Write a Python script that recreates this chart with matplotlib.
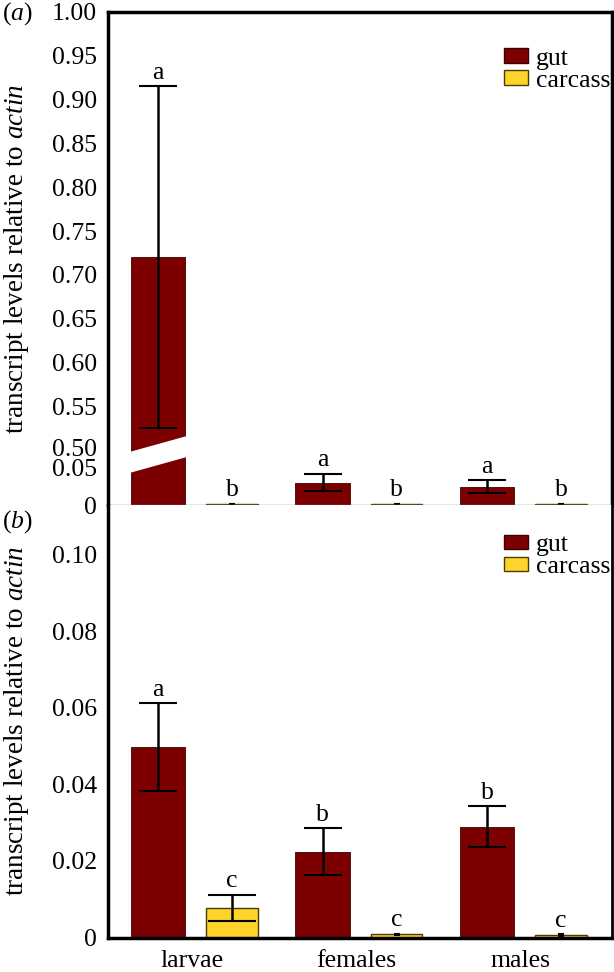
import numpy as np
import matplotlib
matplotlib.use('Agg')
import matplotlib.pyplot as plt
from matplotlib.patches import Polygon, Patch
import matplotlib.transforms as mtransforms

plt.rcParams['font.family'] = ['Liberation Serif', 'DejaVu Serif']
plt.rcParams['mathtext.fontset'] = 'custom'
plt.rcParams['mathtext.rm'] = 'Liberation Serif'
plt.rcParams['mathtext.it'] = 'Liberation Serif:italic'

# ---------------- data ----------------
categories = ['larvae', 'females', 'males']
series = ['gut', 'carcass']

a_gut = [0.72, 0.028, 0.023]
a_gut_err = [0.195, 0.0106, 0.0078]
a_carc = [0.0012, 0.0010, 0.0010]
a_carc_err = [0.0003, 0.0003, 0.0003]
a_gut_letters = ['a', 'a', 'a']
a_carc_letters = ['b', 'b', 'b']

b_gut = [0.0497, 0.0224, 0.0290]
b_gut_err = [0.0115, 0.0061, 0.0053]
b_carc = [0.0077, 0.0008, 0.0006]
b_carc_err = [0.0035, 0.0002, 0.0002]
b_gut_letters = ['a', 'b', 'b']
b_carc_letters = ['c', 'c', 'c']

a_yticks = [0, 0.05, 0.50, 0.55, 0.60, 0.65, 0.70, 0.75, 0.80, 0.85, 0.90, 0.95, 1.00]
a_yticklabels = ['0', '0.05', '0.50', '0.55', '0.60', '0.65', '0.70', '0.75',
                 '0.80', '0.85', '0.90', '0.95', '1.00']
b_yticks = [0, 0.02, 0.04, 0.06, 0.08, 0.10]
b_yticklabels = ['0', '0.02', '0.04', '0.06', '0.08', '0.10']

# broken-axis breakpoints for panel (a): data values -> relative display units
a_break_data = [0.0, 0.05, 0.50, 1.00]
a_break_disp = [0.0, 40.0, 55.0, 493.0]

# ---------------- style ----------------
GUT = '#7d0000'
CARC = '#ffd42a'
FS = 18.5
FS_LAB = 19.5
FS_LET = 18.5
W = 0.33
OFF = 0.225

fig = plt.figure(figsize=(6.14, 9.72), dpi=100)
L, R = 108 / 614, 612 / 614
axA = fig.add_axes([L, 1 - 505 / 972, R - L, (505 - 12) / 972])
axB = fig.add_axes([L, 1 - 937.5 / 972, R - L, (937.5 - 505) / 972])

def fwd(y):
    return np.interp(y, a_break_data, a_break_disp)

def inv(t):
    return np.interp(t, a_break_disp, a_break_data)

axA.set_yscale('function', functions=(fwd, inv))

x = np.arange(len(categories))

def draw_panel(ax, gut, gut_err, carc, carc_err, gl, cl, carc_caps, leg_y):
    ax.bar(x - OFF, gut, W, color=GUT, edgecolor='#3a0000', linewidth=0.6, zorder=2)
    ax.bar(x + OFF, carc, W * 0.95, color=CARC, edgecolor='#4a3c00', linewidth=1.0, zorder=2)
    ax.errorbar(x - OFF, gut, yerr=gut_err, fmt='none', ecolor='black',
                elinewidth=1.8, capsize=14, capthick=1.5, zorder=4)
    for i in range(len(x)):
        ax.errorbar(x[i] + OFF, carc[i], yerr=carc_err[i], fmt='none', ecolor='black',
                    elinewidth=1.8, capsize=carc_caps[i], capthick=1.5, zorder=4)
    for i in range(len(x)):
        ax.annotate(gl[i], (x[i] - OFF, gut[i] + gut_err[i]), xytext=(0, 5.5),
                    textcoords='offset points', ha='center', va='baseline', fontsize=FS_LET)
        ax.annotate(cl[i], (x[i] + OFF, carc[i] + carc_err[i]), xytext=(0, 5.5),
                    textcoords='offset points', ha='center', va='baseline', fontsize=FS_LET)
    ax.set_xlim(-0.53, 2.535)
    ax.tick_params(axis='both', length=0, pad=8, labelsize=FS)
    ax.legend(handles=[Patch(facecolor=GUT, edgecolor='#3a0000', label=series[0]),
                       Patch(facecolor=CARC, edgecolor='#4a3c00', label=series[1])],
              loc='upper left', bbox_to_anchor=(0.76, leg_y), frameon=False,
              fontsize=FS, handlelength=0.95, handleheight=0.48,
              handletextpad=0.3, labelspacing=0.0, borderpad=0)
    ax.set_ylabel(r'transcript levels relative to $\mathit{actin}$', fontsize=FS_LAB)
    ax.yaxis.set_label_coords(-0.152, 0.5)

draw_panel(axA, a_gut, a_gut_err, a_carc, a_carc_err, a_gut_letters, a_carc_letters, [2, 2, 2], 0.954)
draw_panel(axB, b_gut, b_gut_err, b_carc, b_carc_err, b_gut_letters, b_carc_letters, [17, 2, 2], 0.962)

axA.set_ylim(0, 1.0)
axA.set_yticks(a_yticks)
axA.set_yticklabels(a_yticklabels)
axA.set_xticks([])
# nudge the two labels next to the break apart a little
lbls = axA.get_yticklabels()
lbls[2].set_transform(lbls[2].get_transform() + mtransforms.ScaledTranslation(0, 2 / 72, fig.dpi_scale_trans))
lbls[1].set_transform(lbls[1].get_transform() + mtransforms.ScaledTranslation(0, -1.5 / 72, fig.dpi_scale_trans))
for s in ['top', 'left', 'right']:
    axA.spines[s].set_linewidth(2.5)
axA.spines['bottom'].set_linewidth(1.0)
axA.spines['bottom'].set_color('#808080')
axA.spines['bottom'].set_zorder(5)

# break gap across the tall larvae gut bar
tr = mtransforms.blended_transform_factory(axA.transData, axA.transAxes)
bx0, bx1 = x[0] - OFF - W / 2 - 0.01, x[0] - OFF + W / 2 + 0.01
H = 493.0
gap = Polygon([(bx0, 32 / H), (bx1, 48 / H), (bx1, 69 / H), (bx0, 53 / H)],
              closed=True, facecolor='white', edgecolor='none', transform=tr, zorder=3)
axA.add_patch(gap)

axB.set_ylim(0, 0.113)
axB.set_yticks(b_yticks)
axB.set_yticklabels(b_yticklabels)
axB.set_xticks(x - 0.02)
axB.set_xticklabels(categories)
axB.tick_params(axis='x', pad=9)
axB.spines['top'].set_visible(False)
for s in ['left', 'bottom']:
    axB.spines[s].set_linewidth(2.5)
axB.spines['right'].set_linewidth(2.0)

fig.text(2 / 614, 1 - 14 / 972, r'($\mathit{a}$)', fontsize=FS, ha='left', va='center')
fig.text(2 / 614, 1 - 522 / 972, r'($\mathit{b}$)', fontsize=FS, ha='left', va='center')

fig.savefig('out.png', dpi=100)
